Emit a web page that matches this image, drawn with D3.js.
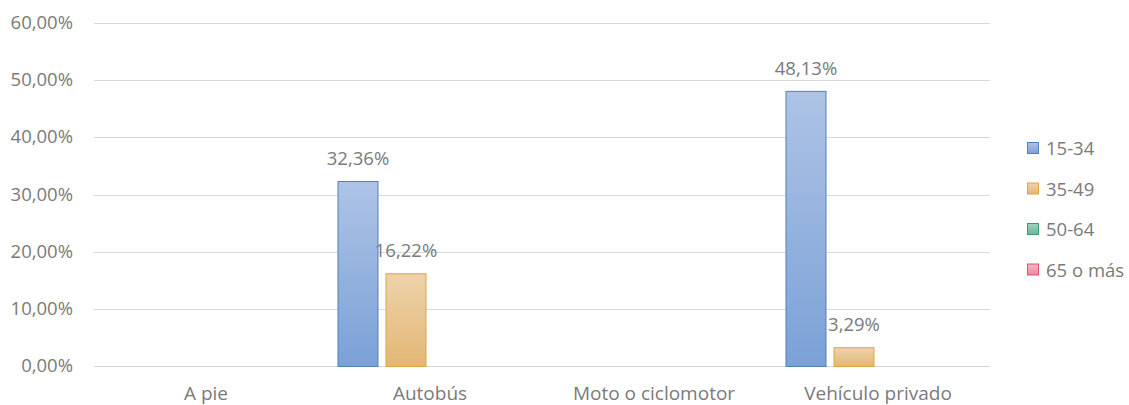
<!DOCTYPE html>
<html>
<head>
<meta charset="utf-8">
<script src="https://cdn.jsdelivr.net/npm/d3@7"></script>
<style>
  body { margin: 0; background: #fff; }
  text { font-family: "Open Sans", "Noto Sans", sans-serif; fill: #7a7a7a; }
</style>
</head>
<body>
<div id="chart"></div>
<script>
var categories = ['A pie', 'Autobús', 'Moto o ciclomotor', 'Vehículo privado'],
    seriesNames = ['15-34', '35-49', '50-64', '65 o más'],
    v1534 = [0, 32.36, 0, 48.13],
    v3549 = [0, 16.22, 0, 3.29],
    v5064 = [0, 0, 0, 0],
    v65 = [0, 0, 0, 0],
    yTicks = [0, 10, 20, 30, 40, 50, 60];

var values = [v1534, v3549, v5064, v65];

var W = 1129, H = 405,
    plotLeft = 94, plotRight = 990, plotTop = 23, plotBottom = 366,
    fs = 18.5;

var colors = [
  {top: '#aec3e6', bot: '#7ba1d7', stroke: '#4f81bd'},
  {top: '#eed3ab', bot: '#e3b774', stroke: '#e2a43f'},
  {top: '#a3d2c0', bot: '#6fb398', stroke: '#3c9a70'},
  {top: '#f6b4c0', bot: '#ef8aa0', stroke: '#e2506d'}
];

var svg = d3.select('#chart').append('svg')
    .attr('width', W).attr('height', H);

var defs = svg.append('defs');
colors.forEach(function(c, i){
  var g = defs.append('linearGradient').attr('id', 'grad' + i)
      .attr('x1', 0).attr('y1', 0).attr('x2', 0).attr('y2', 1);
  g.append('stop').attr('offset', '0%').attr('stop-color', c.top);
  g.append('stop').attr('offset', '100%').attr('stop-color', c.bot);
});

var x0 = d3.scaleBand().domain(categories).range([plotLeft, plotRight]).padding(0);
var x1 = d3.scaleBand().domain(seriesNames).range([0, x0.bandwidth()])
    .paddingInner(0.146).paddingOuter(0.406);
var y = d3.scaleLinear().domain([0, 60]).range([plotBottom, plotTop]);

function fmt(v){ return v.toFixed(2).replace('.', ',') + '%'; }

// grid
svg.append('g').selectAll('line').data(yTicks).enter().append('line')
    .attr('x1', plotLeft).attr('x2', plotRight)
    .attr('y1', function(d){ return Math.round(y(d)) + 0.5; })
    .attr('y2', function(d){ return Math.round(y(d)) + 0.5; })
    .attr('stroke', '#d9d9d9').attr('stroke-width', 1);

// y labels
svg.append('g').selectAll('text').data(yTicks).enter().append('text')
    .attr('x', 73).attr('y', function(d){ return y(d) + 6; })
    .attr('text-anchor', 'end').attr('font-size', fs)
    .text(fmt);

// bars
var groups = svg.append('g').selectAll('g').data(categories).enter().append('g')
    .attr('transform', function(d){ return 'translate(' + x0(d) + ',0)'; });

function rows(d, ci){
  return seriesNames.map(function(s, si){ return {s: s, si: si, v: values[si][ci]}; });
}

groups.selectAll('rect').data(rows).enter()
    .filter(function(d){ return d.v > 0; }).append('rect')
    .attr('x', function(d){ return x1(d.s) + 0.5; })
    .attr('y', function(d){ return y(d.v) + 0.5; })
    .attr('width', x1.bandwidth() - 1)
    .attr('height', function(d){ return y(0) - y(d.v); })
    .attr('fill', function(d){ return 'url(#grad' + d.si + ')'; })
    .attr('stroke', function(d){ return colors[d.si].stroke; })
    .attr('stroke-width', 1);

groups.selectAll('text.lbl').data(rows).enter()
    .filter(function(d){ return d.v > 0; }).append('text')
    .attr('class', 'lbl')
    .attr('x', function(d){ return x1(d.s) + x1.bandwidth() / 2; })
    .attr('y', function(d){ return y(d.v) - 16; })
    .attr('text-anchor', 'middle').attr('font-size', fs)
    .text(function(d){ return fmt(d.v); });

// x labels
svg.append('g').selectAll('text').data(categories).enter().append('text')
    .attr('x', function(d){ return x0(d) + x0.bandwidth() / 2; })
    .attr('y', 400)
    .attr('text-anchor', 'middle').attr('font-size', 19)
    .text(function(d){ return d; });

// legend
var leg = svg.append('g').selectAll('g').data(seriesNames).enter().append('g')
    .attr('transform', function(d, i){ return 'translate(1027,' + (142 + i * 40.5) + ')'; });
leg.append('rect').attr('x', 0.5).attr('y', 0.5).attr('width', 11).attr('height', 11)
    .attr('fill', function(d, i){ return 'url(#grad' + i + ')'; })
    .attr('stroke', function(d, i){ return colors[i].stroke; });
leg.append('text').attr('x', 19).attr('y', 13).attr('font-size', fs)
    .text(function(d){ return d; });
</script>
</body>
</html>
